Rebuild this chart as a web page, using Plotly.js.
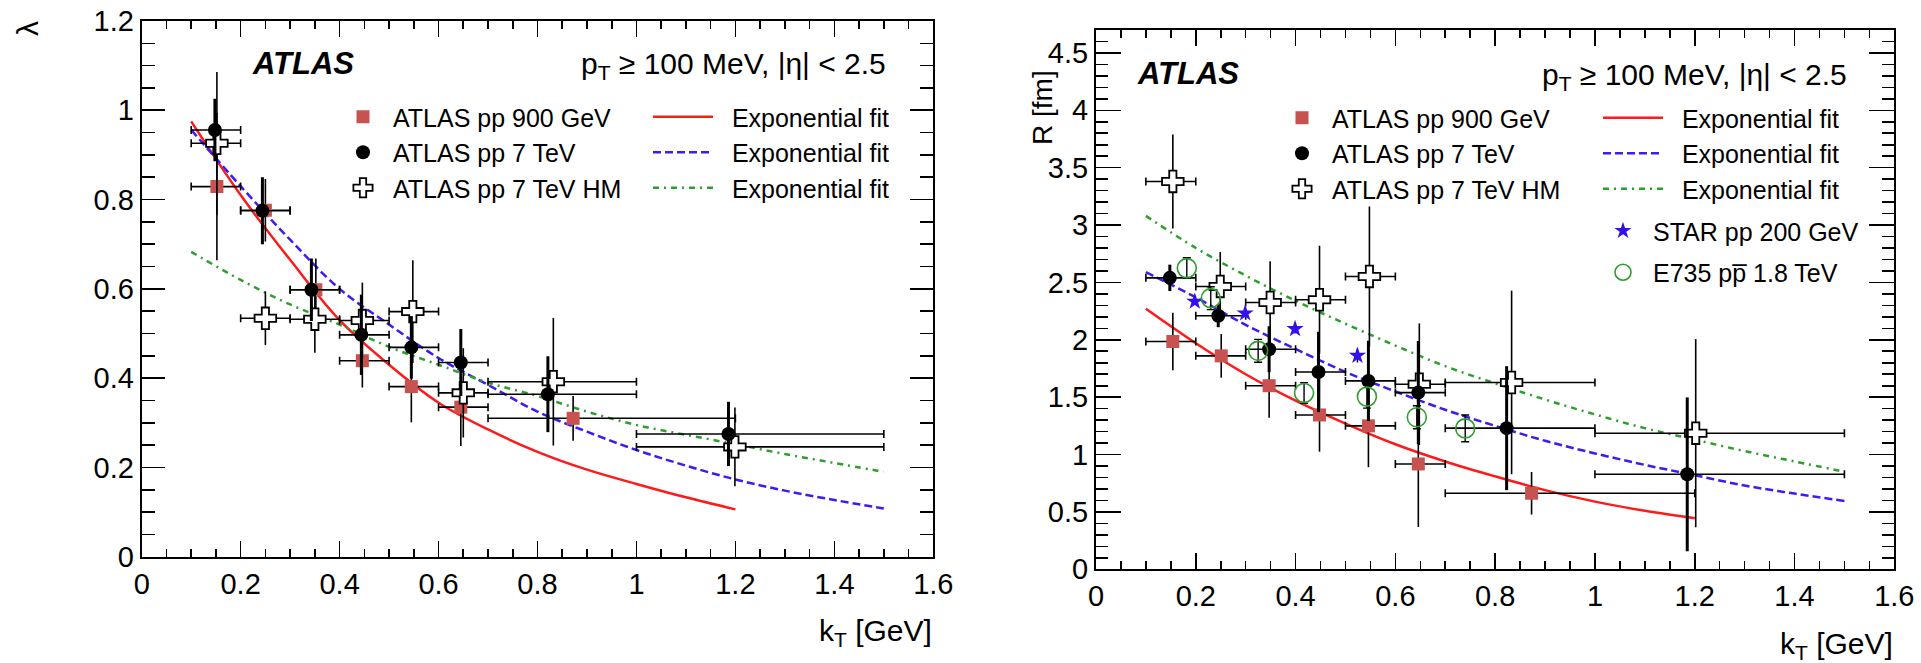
<!DOCTYPE html>
<html><head><meta charset="utf-8">
<script src="https://cdn.plot.ly/plotly-3.0.1.min.js"></script>
<style>html,body{margin:0;padding:0;background:#fff}#plot{width:1921px;height:663px}</style>
</head><body><div id="plot"></div>
<script>
// ================= DATA =================
// ---- Left panel: lambda vs kT ----
const L_kT_900  = [0.152, 0.250, 0.352, 0.446, 0.545, 0.645, 0.872];
const L_lam_900 = [0.829, 0.776, 0.598, 0.439, 0.381, 0.335, 0.310];
const L_lo_900  = [0.1, 0.2, 0.3, 0.4, 0.5, 0.6, 0.7];
const L_hi_900  = [0.2, 0.3, 0.4, 0.5, 0.6, 0.7, 1.2];
const L_err_900 = [0.165, 0.07, 0.07, 0.06, 0.08, 0.087, 0.05];

const L_kT_7  = [0.148, 0.244, 0.343, 0.444, 0.545, 0.645, 0.821, 1.186];
const L_lam_7 = [0.956, 0.775, 0.598, 0.497, 0.469, 0.435, 0.364, 0.275];
const L_lo_7  = [0.1, 0.2, 0.3, 0.4, 0.5, 0.6, 0.7, 1.0];
const L_hi_7  = [0.2, 0.3, 0.4, 0.5, 0.6, 0.7, 1.0, 1.5];
const L_err_7 = [0.07, 0.075, 0.07, 0.09, 0.07, 0.075, 0.085, 0.072];

const L_kT_HM  = [0.152, 0.250, 0.350, 0.446, 0.548, 0.650, 0.832, 1.199];
const L_lam_HM = [0.926, 0.534, 0.532, 0.529, 0.549, 0.367, 0.392, 0.246];
const L_lo_HM  = [0.1, 0.2, 0.3, 0.4, 0.5, 0.6, 0.7, 1.0];
const L_hi_HM  = [0.2, 0.3, 0.4, 0.5, 0.6, 0.7, 1.0, 1.5];
const L_err_HM = [0.16, 0.06, 0.075, 0.085, 0.115, 0.10, 0.143, 0.088];

const L_fitkT_900 = [0.1, 0.2, 0.3, 0.4, 0.5, 0.6, 0.7, 0.8, 0.9, 1.0, 1.1, 1.2];
const L_fit_900   = [0.975, 0.81, 0.665, 0.53, 0.43, 0.345, 0.285, 0.235, 0.195, 0.163, 0.133, 0.106];
const L_fitkT_7   = [0.1, 0.2, 0.3, 0.4, 0.5, 0.6, 0.7, 0.8, 0.9, 1.0, 1.1, 1.2, 1.3, 1.4, 1.5];
const L_fit_7     = [0.956, 0.83, 0.71, 0.60, 0.52, 0.445, 0.385, 0.325, 0.28, 0.239, 0.204, 0.173, 0.148, 0.127, 0.108];
const L_fitkT_HM  = [0.1, 0.2, 0.3, 0.4, 0.5, 0.6, 0.7, 0.8, 0.9, 1.0, 1.1, 1.2, 1.3, 1.4, 1.5];
const L_fit_HM    = [0.683, 0.62, 0.565, 0.52, 0.47, 0.43, 0.39, 0.36, 0.325, 0.295, 0.273, 0.252, 0.23, 0.21, 0.19];

// ---- Right panel: R [fm] vs kT ----
const R_kT_900  = [0.154, 0.251, 0.347, 0.448, 0.546, 0.646, 0.873];
const R_R_900   = [1.985, 1.86, 1.60, 1.345, 1.25, 0.918, 0.663];
const R_lo_900  = [0.1, 0.2, 0.3, 0.4, 0.5, 0.6, 0.7];
const R_hi_900  = [0.2, 0.3, 0.4, 0.5, 0.6, 0.7, 1.2];
const R_err_900 = [0.25, 0.19, 0.28, 0.32, 0.36, 0.55, 0.185];

const R_kT_7  = [0.148, 0.245, 0.347, 0.446, 0.546, 0.646, 0.823, 1.185];
const R_R_7   = [2.54, 2.21, 1.918, 1.72, 1.642, 1.54, 1.23, 0.828];
const R_lo_7  = [0.1, 0.2, 0.3, 0.4, 0.5, 0.6, 0.7, 1.0];
const R_hi_7  = [0.2, 0.3, 0.4, 0.5, 0.6, 0.7, 1.0, 1.5];
const R_err_7 = [0.115, 0.10, 0.20, 0.35, 0.35, 0.45, 0.54, 0.67];

const R_kT_HM  = [0.154, 0.249, 0.349, 0.448, 0.548, 0.648, 0.833, 1.202];
const R_R_HM   = [3.38, 2.465, 2.325, 2.349, 2.552, 1.613, 1.628, 1.186];
const R_lo_HM  = [0.1, 0.2, 0.3, 0.4, 0.5, 0.6, 0.7, 1.0];
const R_hi_HM  = [0.2, 0.3, 0.4, 0.5, 0.6, 0.7, 1.0, 1.5];
const R_err_HM = [0.41, 0.30, 0.36, 0.47, 0.61, 0.53, 0.80, 0.82];

const R_kT_STAR  = [0.198, 0.299, 0.399, 0.524];
const R_R_STAR   = [2.334, 2.232, 2.095, 1.862];
const R_err_STAR = [0.03, 0.03, 0.04, 0.06];

const R_kT_E735  = [0.182, 0.230, 0.325, 0.417, 0.543, 0.643, 0.740];
const R_R_E735   = [2.625, 2.363, 1.904, 1.537, 1.505, 1.325, 1.228];
const R_err_E735 = [0.09, 0.10, 0.10, 0.09, 0.10, 0.10, 0.117];

const R_fitkT_900 = [0.1, 0.2, 0.3, 0.4, 0.5, 0.6, 0.7, 0.8, 0.9, 1.0, 1.1, 1.2];
const R_fit_900   = [2.27, 1.97, 1.70, 1.47, 1.27, 1.09, 0.94, 0.81, 0.69, 0.59, 0.51, 0.445];
const R_fitkT_7   = [0.1, 0.2, 0.3, 0.4, 0.5, 0.6, 0.7, 0.8, 0.9, 1.0, 1.1, 1.2, 1.3, 1.4, 1.5];
const R_fit_7     = [2.59, 2.37, 2.13, 1.92, 1.72, 1.55, 1.39, 1.25, 1.12, 1.01, 0.91, 0.82, 0.73, 0.66, 0.596];
const R_fitkT_HM  = [0.1, 0.2, 0.3, 0.4, 0.5, 0.6, 0.7, 0.8, 0.9, 1.0, 1.1, 1.2, 1.3, 1.4, 1.5];
const R_fit_HM    = [3.08, 2.80, 2.56, 2.34, 2.14, 1.95, 1.77, 1.62, 1.48, 1.35, 1.23, 1.13, 1.03, 0.94, 0.85];

// Text
const LBL_900 = 'ATLAS pp 900 GeV';
const LBL_7   = 'ATLAS pp 7 TeV';
const LBL_HM  = 'ATLAS pp 7 TeV HM';
const LBL_FIT = '\u00a0\u00a0Exponential fit';
const LBL_STAR = 'STAR pp 200 GeV';
const LBL_E735 = 'E735 pp\u0305 1.8 TeV';

// ================= STYLE =================
const FONT = 'Liberation Sans, Arial, Helvetica, sans-serif';
const W = 1921, H = 663;
const px = v => v / W;
const py = v => 1 - v / H;

const C_RED_LINE = '#ff1a1a', C_BLUE = '#3d1cf2', C_GREEN = '#2ca02c';
const C_SQ = '#c8524f', C_STAR = '#3311ee', C_E735 = '#2e9e2e';

function sub(a, b) { return a.map((v, i) => v - b[i]); }

function dataTrace(x, y, lo, hi, err, xa, ya, name, legend, rank, marker, thick) {
  const t = {
    type: 'scatter', mode: 'markers', x: x, y: y, xaxis: xa, yaxis: ya,
    name: name, legend: legend, legendrank: rank, showlegend: true,
    marker: marker,
    error_y: { type: 'data', array: err, color: '#000', thickness: thick, width: 0 }
  };
  if (lo) {
    t.error_x = { type: 'data', symmetric: false, array: sub(hi, x), arrayminus: sub(x, lo),
                  color: '#000', thickness: 1.6, width: 4 };
  }
  return t;
}
function fitTrace(x, y, xa, ya, color, dash, legend, rank) {
  return { type: 'scatter', mode: 'lines', x: x, y: y, xaxis: xa, yaxis: ya,
           name: LBL_FIT, legend: legend, legendrank: rank, showlegend: true,
           line: { color: color, width: 2.5, dash: dash, shape: 'spline', smoothing: 1 } };
}

const MK_SQ   = { symbol: 'square', size: 13, color: C_SQ, line: { width: 0 } };
const MK_DOT  = { symbol: 'circle', size: 14, color: '#000', line: { width: 0 } };
const MK_HM   = { symbol: 'cross', size: 18, color: '#fff', line: { width: 1.8, color: '#000' } };
const MK_STAR = { symbol: 'star', size: 13, color: C_STAR, line: { width: 0 } };
const MK_E735 = { symbol: 'circle-open', size: 19, color: C_E735, line: { width: 1.6, color: C_E735 } };

const DASH_BLUE = '8px,4px';
const DASH_GREEN = '6px,5px,2px,5px';

const traces = [
  // left fits
  fitTrace(L_fitkT_900, L_fit_900, 'x', 'y', C_RED_LINE, 'solid', 'legend2', 1),
  fitTrace(L_fitkT_7, L_fit_7, 'x', 'y', C_BLUE, DASH_BLUE, 'legend2', 2),
  fitTrace(L_fitkT_HM, L_fit_HM, 'x', 'y', C_GREEN, DASH_GREEN, 'legend2', 3),
  // left data
  dataTrace(L_kT_900, L_lam_900, L_lo_900, L_hi_900, L_err_900, 'x', 'y', LBL_900, 'legend', 1, MK_SQ, 1.6),
  dataTrace(L_kT_HM, L_lam_HM, L_lo_HM, L_hi_HM, L_err_HM, 'x', 'y', LBL_HM, 'legend', 3, MK_HM, 1.6),
  dataTrace(L_kT_7, L_lam_7, L_lo_7, L_hi_7, L_err_7, 'x', 'y', LBL_7, 'legend', 2, MK_DOT, 3),
  // right fits
  fitTrace(R_fitkT_900, R_fit_900, 'x2', 'y2', C_RED_LINE, 'solid', 'legend4', 1),
  fitTrace(R_fitkT_7, R_fit_7, 'x2', 'y2', C_BLUE, DASH_BLUE, 'legend4', 2),
  fitTrace(R_fitkT_HM, R_fit_HM, 'x2', 'y2', C_GREEN, DASH_GREEN, 'legend4', 3),
  // right data
  dataTrace(R_kT_900, R_R_900, R_lo_900, R_hi_900, R_err_900, 'x2', 'y2', LBL_900, 'legend3', 1, MK_SQ, 1.6),
  dataTrace(R_kT_HM, R_R_HM, R_lo_HM, R_hi_HM, R_err_HM, 'x2', 'y2', LBL_HM, 'legend3', 3, MK_HM, 1.6),
  dataTrace(R_kT_7, R_R_7, R_lo_7, R_hi_7, R_err_7, 'x2', 'y2', LBL_7, 'legend3', 2, MK_DOT, 3),
  dataTrace(R_kT_STAR, R_R_STAR, null, null, R_err_STAR, 'x2', 'y2', LBL_STAR, 'legend5', 1, MK_STAR, 1.4),
  dataTrace(R_kT_E735, R_R_E735, null, null, R_err_E735, 'x2', 'y2', LBL_E735, 'legend5', 2, MK_E735, 1.4)
];
traces[12].legendgroup = 'g_star';
traces[13].legendgroup = 'g_e735';
traces[13].error_y.width = 4;
traces[13].error_y.color = '#000';

function axis(extra) {
  return Object.assign({
    showgrid: false, zeroline: false, showline: true, linecolor: '#000', linewidth: 2,
    mirror: 'ticks', ticks: 'inside', tickcolor: '#000', tickwidth: 1.6,
    tickfont: { family: FONT, size: 29, color: '#000' }, fixedrange: true
  }, extra);
}

function legendBox(xpx, ytop, iw, extra) {
  return Object.assign({
    x: px(xpx), y: py(ytop), xanchor: 'left', yanchor: 'top',
    bgcolor: 'rgba(0,0,0,0)', borderwidth: 0, itemwidth: iw,
    font: { family: FONT, size: 25, color: '#000' }, itemclick: false
  }, extra || {});
}

const annFont = (s, extra) => Object.assign({ family: FONT, size: s, color: '#000' }, extra || {});
const ann = (text, x, y, xa, ya, size, extra) => Object.assign({
  text: text, xref: 'paper', yref: 'paper', x: px(x), y: py(y), xanchor: xa, yanchor: ya,
  showarrow: false, font: annFont(size)
}, extra || {});

const layout = {
  width: W, height: H, margin: { l: 0, r: 0, t: 0, b: 0 },
  paper_bgcolor: '#fff', plot_bgcolor: '#fff', showlegend: true,
  xaxis: axis({ domain: [px(141.7), px(933.3)], range: [0, 1.6], anchor: 'y', dtick: 0.2, tick0: 0, ticklen: 16,
                minor: { ticks: 'inside', dtick: 0.05, ticklen: 8, tickcolor: '#000', tickwidth: 1.6 } }),
  yaxis: axis({ domain: [py(556.7), py(21)], range: [0, 1.2], anchor: 'x', dtick: 0.2, tick0: 0, ticklen: 23,
                minor: { ticks: 'inside', dtick: 0.05, ticklen: 13, tickcolor: '#000', tickwidth: 1.6 } }),
  xaxis2: axis({ domain: [px(1096), px(1894.3)], range: [0, 1.6], anchor: 'y2', dtick: 0.2, tick0: 0, ticklen: 16,
                 minor: { ticks: 'inside', dtick: 0.05, ticklen: 8, tickcolor: '#000', tickwidth: 1.6 } }),
  yaxis2: axis({ domain: [py(569.3), py(30)], range: [0, 4.7], anchor: 'x2', dtick: 0.5, tick0: 0, ticklen: 25,
                 minor: { ticks: 'inside', dtick: 0.1, ticklen: 12, tickcolor: '#000', tickwidth: 1.6 } }),
  legend:  legendBox(333, 94, 50),
  legend2: legendBox(648, 94, 60),
  legend3: legendBox(1272, 95, 50),
  legend4: legendBox(1598, 95, 60),
  legend5: legendBox(1593, 208, 50, { tracegroupgap: 6 }),
  annotations: [
    ann('λ', 28, 29, 'center', 'middle', 30, { textangle: -90 }),
    ann('R [fm]', 1043, 108, 'center', 'middle', 28, { textangle: -90 }),
    ann('k<sub>T</sub> [GeV]', 934, 632, 'right', 'middle', 30),
    ann('k<sub>T</sub> [GeV]', 1895, 645, 'right', 'middle', 30),
    ann('<b><i>ATLAS</i></b>', 250, 64, 'left', 'middle', 31),
    ann('<b><i>ATLAS</i></b>', 1135, 73, 'left', 'middle', 31),
    ann('p<sub>T</sub> ≥ 100 MeV, |η| &lt; 2.5', 888, 66, 'right', 'middle', 30),
    ann('p<sub>T</sub> ≥ 100 MeV, |η| &lt; 2.5', 1849, 76, 'right', 'middle', 30)
  ]
};

Plotly.newPlot('plot', traces, layout, { staticPlot: true, displayModeBar: false });
</script>
</body></html>
